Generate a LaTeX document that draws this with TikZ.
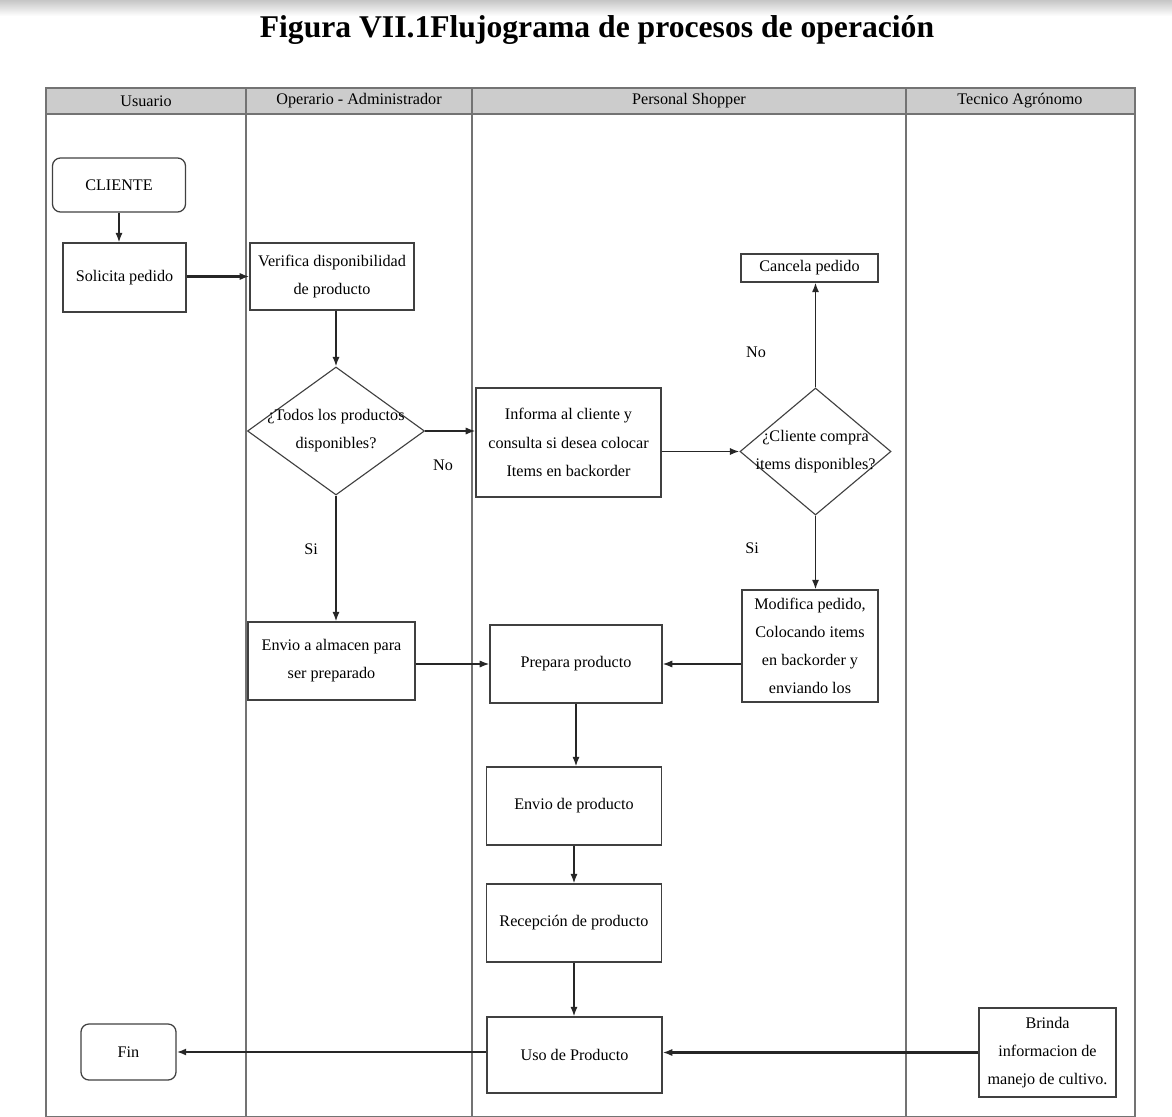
\documentclass[tikz,border=0pt]{standalone}
\usepackage{fontspec}
\setmainfont{Liberation Serif}
\usetikzlibrary{shapes.geometric,arrows.meta}

\begin{document}
\begin{tikzpicture}[x=0.025cm, y=-0.025cm,
        lane/.style={draw=black!55, line width=0.9pt},
        box/.style={draw=black!75, line width=0.9pt, align=center, inner sep=2pt,
            font=\fontsize{11.5}{20}\selectfont},
        rbox/.style={box, rounded corners=0.2cm},
        decision/.style={draw=black!75, line width=0.8pt, diamond, inner sep=0pt},
        txt/.style={align=center, font=\fontsize{11.5}{20}\selectfont},
        flow/.style={draw=black!85, line width=1.1pt, -{Latex[length=2.4mm,width=1.8mm]}},
        thickflow/.style={flow, line width=1.7pt}]
                        \useasboundingbox (0,0) rectangle (1172,1117);
                        \shade[top color=gray!45, bottom color=white] (0,0) rectangle (1172,16);

                        % Title
                        \node[anchor=base, font=\bfseries\fontsize{22.5}{26}\selectfont] (titulo) at (597,38)
                            {Figura VII.1Flujograma de procesos de operación};

                        % Lanes
                        \fill[gray!40] (46,88) rectangle (1135,114);
                        \draw[lane] (46,88) rectangle (1135,1117);
                        \draw[lane] (46,114) -- (1135,114);
                        \draw[lane] (246,88) -- (246,1117);
                        \draw[lane] (472,88) -- (472,1117);
                        \draw[lane] (906,88) -- (906,1117);

                        \node[txt, font=\fontsize{11.5}{13}\selectfont] (usuario) at (146,101) {Usuario};
                        \node[txt, font=\fontsize{11.5}{13}\selectfont] (operario) at (359,101) {Operario - Administrador};
                        \node[txt, font=\fontsize{11.5}{13}\selectfont] (shopper) at (689,101) {Personal Shopper};
                        \node[txt, font=\fontsize{11.5}{13}\selectfont] (tecnico) at (1020,101) {Tecnico Agrónomo};

                        % Usuario
                        \node[rbox, minimum width=3.325cm, minimum height=1.35cm] (cliente) at (119,185) {CLIENTE};
                        \node[box, minimum width=3.075cm, minimum height=1.725cm] (solicita) at (124.5,277.5) {Solicita pedido};
                        \node[rbox, minimum width=2.375cm, minimum height=1.4cm] (fin) at (128.5,1052) {Fin};

                        % Operario - Administrador
                        \node[box, minimum width=4.1cm, minimum height=1.675cm] (verifica) at (332,276.5)
                            {Verifica disponibilidad\\de producto};
                        \node[decision, minimum width=4.425cm, minimum height=3.2cm,
                            label={[txt]center:{¿Todos los productos\\disponibles?}}] (todos) at (336,431) {};
                        \node[box, minimum width=4.175cm, minimum height=1.95cm] (almacen) at (331.5,661)
                            {Envio a almacen para\\ser preparado};

                        % Personal Shopper
                        \node[box, minimum width=4.625cm, minimum height=2.725cm] (informa) at (568.5,442.5)
                            {Informa al cliente y\\consulta si desea colocar\\Items en backorder};
                        \node[decision, minimum width=3.775cm, minimum height=3.175cm,
                            label={[txt]center:{¿Cliente compra\\items disponibles?}}] (compra) at (815.5,451.5) {};
                        \node[box, minimum width=3.425cm, minimum height=0.7cm] (cancela) at (809.5,268) {Cancela pedido};
                        \node[box, minimum width=3.4cm, minimum height=2.8cm] (modifica) at (810,646)
                            {Modifica pedido,\\Colocando items\\en backorder y\\enviando los};
                        \node[box, minimum width=4.3cm, minimum height=1.95cm] (prepara) at (576,664) {Prepara producto};
                        \node[box, minimum width=4.375cm, minimum height=1.95cm] (envio) at (574,806) {Envio de producto};
                        \node[box, minimum width=4.375cm, minimum height=1.95cm] (recepcion) at (574,923) {Recepción de producto};
                        \node[box, minimum width=4.375cm, minimum height=1.9cm] (uso) at (574.5,1055) {Uso de Producto};

                        % Tecnico Agronomo
                        \node[box, minimum width=3.425cm, minimum height=2.225cm] (brinda) at (1047.5,1052.5)
                            {Brinda\\informacion de\\manejo de cultivo.};

                        % Arrows
                        \draw[flow] (cliente.south) -- (cliente.south |- solicita.north);
                        \draw[thickflow] (solicita.east |- verifica) -- (verifica.west);
                        \draw[flow] (todos.north |- verifica.south) -- (todos.north);
                        \draw[flow] (todos.east) -- (todos.east -| informa.west);
                        \draw[flow] (informa.east |- compra) -- (compra.west);
                        \draw[flow] (compra.north) -- (compra.north |- cancela.south);
                        \draw[flow] (compra.south) -- (compra.south |- modifica.north);
                        \draw[flow] (todos.south) -- (todos.south |- almacen.north);
                        \draw[flow] (almacen.east |- prepara) -- (prepara.west);
                        \draw[flow] (modifica.west |- prepara) -- (prepara.east);
                        \draw[flow] (prepara.south) -- (prepara.south |- envio.north);
                        \draw[flow] (envio.south) -- (envio.south |- recepcion.north);
                        \draw[flow] (recepcion.south) -- (recepcion.south |- uso.north);
                        \draw[thickflow] (brinda.west) -- (brinda.west -| uso.east);
                        \draw[thickflow] (uso.west |- fin) -- (fin.east);

                        % Labels
                        \node[txt] (no1) at (443,465) {No};
                        \node[txt] (si1) at (311,549) {Si};
                        \node[txt] (no2) at (756,352) {No};
                        \node[txt] (si2) at (752,548) {Si};
\end{tikzpicture}
\end{document}
